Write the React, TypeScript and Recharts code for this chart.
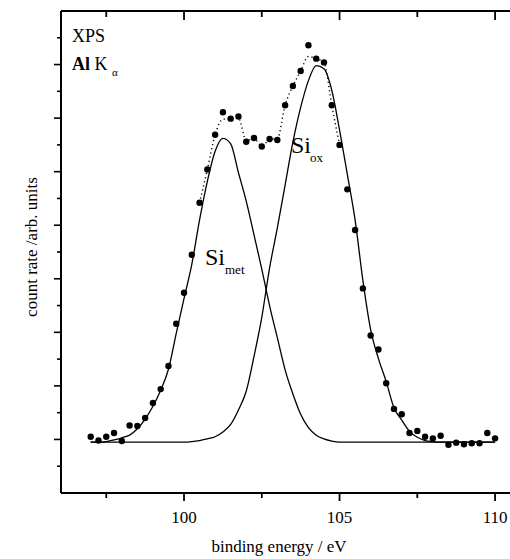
import { ComposedChart, Line, Scatter, XAxis, YAxis } from 'recharts';

// binding energy grid of the measured points / fit curves (eV)
const energy = [
  97, 97.25, 97.5, 97.75, 98, 98.25, 98.5, 98.75, 99, 99.25, 99.5, 99.75,
  100, 100.25, 100.5, 100.75, 101, 101.25, 101.5, 101.75, 102, 102.25, 102.5, 102.75,
  103, 103.25, 103.5, 103.75, 104, 104.25, 104.5, 104.75, 105, 105.25, 105.5, 105.75,
  106, 106.25, 106.5, 106.75, 107, 107.25, 107.5, 107.75, 108, 108.25, 108.5, 108.75,
  109, 109.25, 109.5, 109.75, 110,
];

// measured count rate (arb. units)
const counts = [
  1.05, 0.98, 1.05, 1.12, 0.97, 1.26, 1.25, 1.4, 1.68, 1.94, 2.37, 3.16,
  3.74, 4.45, 5.42, 6.04, 6.69, 7.11, 6.99, 7.03, 6.56, 6.63, 6.47, 6.61,
  6.59, 7.24, 7.6, 7.88, 8.36, 8.11, 8.04, 7.24, 6.5, 5.67, 4.91, 3.82,
  2.94, 2.68, 2.05, 1.57, 1.47, 1.12, 1.16, 1.05, 1.02, 1.07, 0.9, 0.94,
  0.91, 0.93, 0.93, 1.12, 1.02,
];

// fitted component Si_met
const siMet = [
  0.95, 0.95, 0.96, 0.99, 1.03, 1.08, 1.2, 1.38, 1.62, 1.92, 2.31, 2.98,
  3.63, 4.27, 5.1, 5.82, 6.38, 6.62, 6.52, 5.98, 5.45, 4.82, 4.18, 3.5,
  2.9, 2.3, 1.85, 1.47, 1.22, 1.08, 1.01, 0.97, 0.95, 0.95, 0.95, 0.95,
  0.95, 0.95, 0.95, 0.95, 0.95, 0.95, 0.95, 0.95, 0.95, 0.95, 0.95, 0.95,
  0.95, 0.95, 0.95, 0.95, 0.95,
];

// fitted component Si_ox
const siOx = [
  0.95, 0.95, 0.95, 0.95, 0.95, 0.95, 0.95, 0.95, 0.95, 0.95, 0.95, 0.95,
  0.95, 0.96, 0.98, 1.01, 1.05, 1.14, 1.28, 1.55, 1.9, 2.55, 3.28, 4.2,
  4.95, 5.75, 6.55, 7.2, 7.7, 7.98, 7.92, 7.52, 6.78, 5.95, 5.1, 3.97,
  3.05, 2.51, 2.08, 1.59, 1.36, 1.15, 1.04, 0.98, 0.96, 0.95, 0.95, 0.95,
  0.95, 0.95, 0.95, 0.95, 0.95,
];

// dotted line through the peak region
const envEnergy = [
  100.5, 100.75, 101, 101.25, 101.5, 101.75, 102, 102.25, 102.5, 102.75,
  103, 103.25, 103.5, 103.75, 104, 104.25, 104.5, 104.75, 105,
];
const envCounts = [
  5.42, 6.04, 6.69, 6.98, 6.99, 7.0, 6.58, 6.62, 6.48, 6.6,
  6.62, 7.24, 7.6, 7.88, 8.15, 8.11, 8.04, 7.24, 6.5,
];

const xTicks = [97.5, 100, 102.5, 105, 107.5, 110];
const xLabels = [100, 105, 110];
const yTicks = [0.5, 1, 1.5, 2, 2.5, 3, 3.5, 4, 4.5, 5, 5.5, 6, 6.5, 7, 7.5, 8, 8.5];

const rows = energy.map((e, i) => ({ e, counts: counts[i], met: siMet[i], ox: siOx[i] }));
const envRows = envEnergy.map((e, i) => ({ e, env: envCounts[i] }));

const serif = "'Liberation Serif', 'DejaVu Serif', serif";
const PLOT_TOP = 11;

// bottom tick also draws its mirror tick on the top frame (pointing inwards)
function BottomTick(props: any) {
  const { x, y, payload } = props;
  const major = xLabels.includes(payload.value);
  return (
    <g>
      <line x1={x} y1={y} x2={x} y2={y + (major ? 8 : 5)} stroke="#000" strokeWidth={1.8} />
      <line x1={x} y1={PLOT_TOP} x2={x} y2={PLOT_TOP + (major ? 9 : 6)} stroke="#000" strokeWidth={1.8} />
      {major && (
        <text x={x} y={y + 30} textAnchor="middle" style={{ fontFamily: serif }} fontSize={17} fill="#000">
          {payload.value}
        </text>
      )}
    </g>
  );
}

function LeftTick(props: any) {
  const { x, y, payload } = props;
  const major = Number.isInteger(payload.value);
  return (
    <g>
      <line x1={x - (major ? 7 : 4)} y1={y} x2={x} y2={y} stroke="#000" strokeWidth={1.6} />
    </g>
  );
}

export default function App() {
  return (
    <div style={{ position: 'relative', width: 510, height: 559, background: '#fff' }}>
      <style>{'body{margin:0}'}</style>
      <ComposedChart width={510} height={559} margin={{ top: 0, right: 0, bottom: 0, left: 0 }}>
        <XAxis
          xAxisId="b"
          dataKey="e"
          type="number"
          domain={[96.045, 110.48]}
          allowDataOverflow
          ticks={xTicks}
          interval={0}
          height={66}
          tickSize={0}
          tickMargin={0}
          tickLine={false}
          axisLine={{ stroke: '#000', strokeWidth: 2 }}
          tick={(p: any) => <BottomTick {...p} />}
        />
        <XAxis
          xAxisId="t"
          orientation="top"
          dataKey="e"
          type="number"
          domain={[96.045, 110.48]}
          allowDataOverflow
          height={PLOT_TOP}
          tickLine={false}
          tick={false}
          axisLine={{ stroke: '#000', strokeWidth: 2 }}
        />
        <YAxis
          type="number"
          domain={[0, 9]}
          allowDataOverflow
          ticks={yTicks}
          interval={0}
          width={61}
          tickSize={0}
          tickMargin={0}
          tickLine={false}
          axisLine={{ stroke: '#000', strokeWidth: 2 }}
          tick={(p: any) => <LeftTick {...p} />}
        />
        <Line
          xAxisId="b"
          data={rows}
          dataKey="met"
          type="monotone"
          stroke="#000"
          strokeWidth={1.3}
          dot={false}
          isAnimationActive={false}
        />
        <Line
          xAxisId="b"
          data={rows}
          dataKey="ox"
          type="monotone"
          stroke="#000"
          strokeWidth={1.3}
          dot={false}
          isAnimationActive={false}
        />
        <Line
          xAxisId="b"
          data={envRows}
          dataKey="env"
          type="monotone"
          stroke="#000"
          strokeWidth={1.4}
          strokeDasharray="1.2 3"
          dot={false}
          isAnimationActive={false}
        />
        <Scatter
          xAxisId="b"
          data={rows}
          dataKey="counts"
          isAnimationActive={false}
          shape={(p: any) => <circle cx={p.cx} cy={p.cy} r={3.2} fill="#000" />}
        />
      </ComposedChart>
      <svg
        width={510}
        height={559}
        style={{ position: 'absolute', left: 0, top: 0, pointerEvents: 'none', fontFamily: serif }}
        fill="#000"
      >
        <text x={72} y={42} fontSize={18}>XPS</text>
        <text x={72} y={70} fontSize={18}>
          <tspan fontWeight="bold">Al</tspan>
          <tspan> K</tspan>
        </text>
        <text x={112} y={76} fontSize={11}>α</text>
        <text x={205} y={265} fontSize={24}>Si</text>
        <text x={225} y={274} fontSize={13}>met</text>
        <text x={291} y={153} fontSize={24}>Si</text>
        <text x={310} y={162} fontSize={13}>ox</text>
        <text x={279} y={552} fontSize={17} textAnchor="middle">binding energy / eV</text>
        <text x={37} y={247} fontSize={17} textAnchor="middle" transform="rotate(-90 37 247)">
          count rate /arb. units
        </text>
      </svg>
    </div>
  );
}
